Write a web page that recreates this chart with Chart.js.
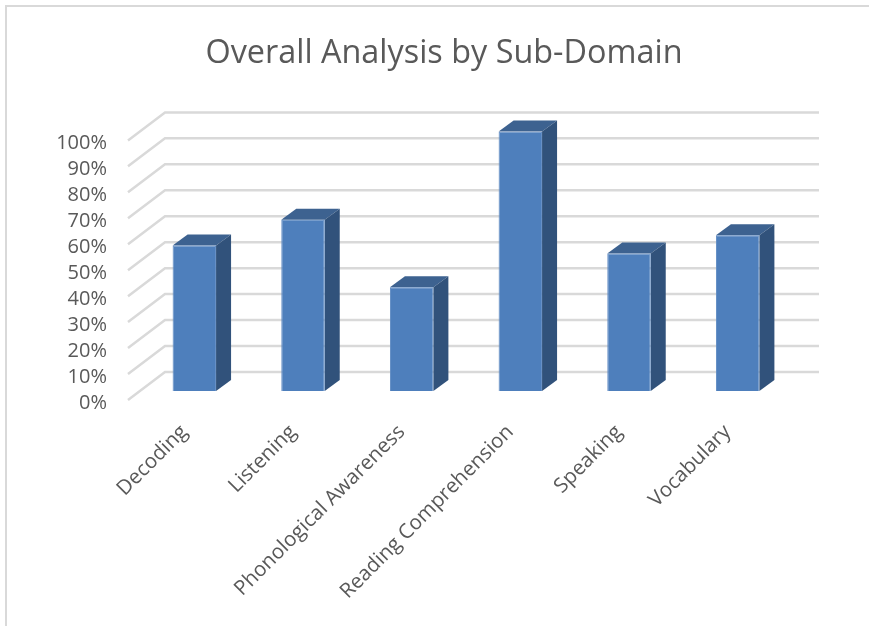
<!DOCTYPE html>
<html>
<head>
<meta charset="utf-8">
<script src="https://cdn.jsdelivr.net/npm/chart.js@4"></script>
<style>
    html, body { margin: 0; padding: 0; background: #fff; }
    #wrap { position: relative; width: 869px; height: 626px; overflow: hidden; }
    #frame { position: absolute; left: 5px; top: 5px; width: 900px; height: 700px; border: 2px solid #d9d9d9; }
    canvas { position: absolute; left: 0; top: 0; }
</style>
</head>
<body>
<div id="wrap">
    <div id="frame"></div>
    <canvas id="chart" width="869" height="626"></canvas>
</div>
<script>
const categories = ['Decoding', 'Listening', 'Phonological Awareness', 'Reading Comprehension', 'Speaking', 'Vocabulary'];
const values = [56, 66, 40, 100, 53, 60];
const yTicks = [0, 10, 20, 30, 40, 50, 60, 70, 80, 90, 100];

const fontName = '"Open Sans", sans-serif';
const textColor = '#595959';

// fake 3d: the axis sits on the front of the floor, bars in the middle, grid on the back wall
const barShift = { x: 12, y: -9 };
const barDepth = { x: 15, y: -11 };
const wallShift = { x: 37, y: -28 };
const wallRight = 819;

const fake3d = {
    id: 'fake3d',
    beforeDatasetsDraw(chart) {
        const { ctx, chartArea, scales } = chart;
        ctx.save();
        ctx.strokeStyle = '#d9d9d9';
        ctx.lineWidth = 2.5;
        yTicks.forEach(t => {
            const y = scales.y.getPixelForValue(t);
            ctx.beginPath();
            ctx.moveTo(chartArea.left, y);
            ctx.lineTo(chartArea.left + wallShift.x, y + wallShift.y);
            ctx.lineTo(wallRight, y + wallShift.y);
            ctx.stroke();
        });
        ctx.restore();

        // everything in the dataset draws shifted, restored in afterDatasetsDraw
        ctx.save();
        ctx.translate(barShift.x, barShift.y);
        chart.getDatasetMeta(0).data.forEach(bar => {
            const left = bar.x - bar.width / 2;
            const right = bar.x + bar.width / 2;
            ctx.fillStyle = '#3d6290';
            ctx.beginPath();
            ctx.moveTo(left, bar.y);
            ctx.lineTo(left + barDepth.x, bar.y + barDepth.y);
            ctx.lineTo(right + barDepth.x, bar.y + barDepth.y);
            ctx.lineTo(right, bar.y);
            ctx.closePath();
            ctx.fill();
            ctx.fillStyle = '#31527b';
            ctx.beginPath();
            ctx.moveTo(right, bar.y);
            ctx.lineTo(right + barDepth.x, bar.y + barDepth.y);
            ctx.lineTo(right + barDepth.x, bar.base + barDepth.y);
            ctx.lineTo(right, bar.base);
            ctx.closePath();
            ctx.fill();
        });
    },
    afterDatasetsDraw(chart) {
        chart.ctx.restore();
    }
};

new Chart(document.getElementById('chart'), {
    type: 'bar',
    data: {
        labels: categories,
        datasets: [{
            label: 'Overall',
            data: values,
            backgroundColor: '#4e7fbc',
            borderColor: '#5f8bc3',
            borderWidth: 1,
            barPercentage: 0.4,
            categoryPercentage: 1
        }]
    },
    options: {
        responsive: false,
        animation: false,
        // left padding + empty right axis keep the title centred at 444 with the plot ending at 780
        layout: { padding: { left: 19, right: 0, top: 0, bottom: 0 } },
        scales: {
            x: {
                grid: { display: false },
                border: { display: false },
                afterFit(scale) { scale.height = 226; scale.paddingLeft = 0; scale.paddingRight = 0; },
                ticks: {
                    color: textColor,
                    font: { family: fontName, size: 20.5 },
                    minRotation: 45,
                    maxRotation: 45,
                    autoSkip: false,
                    padding: 12,
                    labelOffset: 2
                }
            },
            y: {
                min: 0,
                max: 100,
                grid: { display: false, drawTicks: false },
                border: { display: false },
                afterFit(scale) { scale.width = 109; scale.paddingTop = 0; scale.paddingBottom = 0; },
                ticks: {
                    color: textColor,
                    font: { family: fontName, size: 20 },
                    stepSize: 10,
                    autoSkip: false,
                    padding: 21,
                    labelOffset: 3,
                    callback: v => v + '%'
                }
            },
            spacer: {
                type: 'linear',
                position: 'right',
                grid: { display: false },
                border: { display: false },
                ticks: { display: false },
                afterFit(scale) { scale.width = 89; scale.paddingTop = 0; scale.paddingBottom = 0; }
            }
        },
        plugins: {
            legend: { display: false },
            tooltip: { enabled: false },
            title: {
                display: true,
                text: 'Overall Analysis by Sub-Domain',
                color: textColor,
                font: { family: fontName, size: 32.4, weight: 'normal' },
                padding: { top: 34, bottom: 67.5 }
            }
        }
    },
    plugins: [fake3d]
});
</script>
</body>
</html>
